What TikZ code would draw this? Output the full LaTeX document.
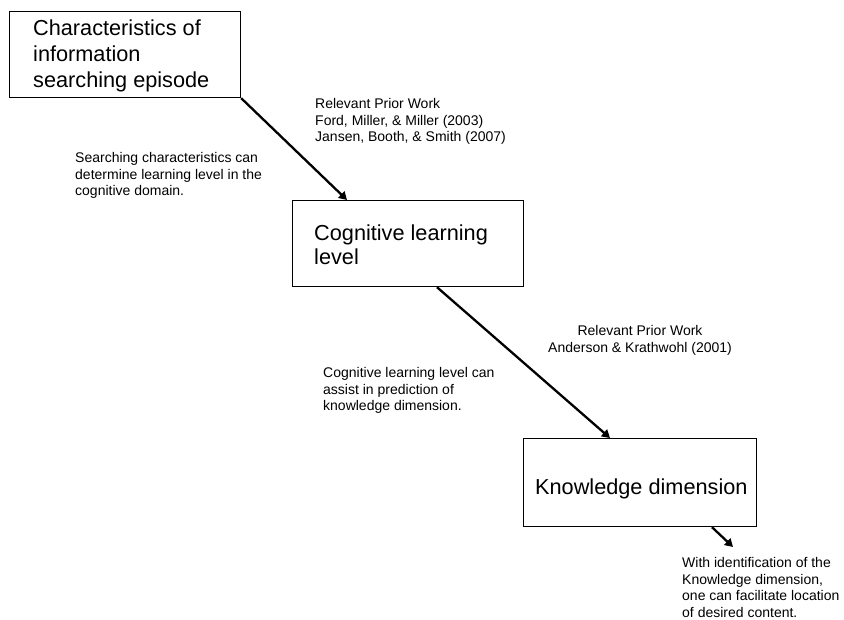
\documentclass[tikz,border=0pt]{standalone}
\usepackage{fontspec}
\setmainfont{Liberation Sans}
\usetikzlibrary{arrows.meta}
\begin{document}
\begin{tikzpicture}[x=1pt,y=-1pt,
  box/.style={draw, line width=1.2pt, inner sep=0pt, anchor=north west},
  bigtext/.style={font=\fontsize{21.7}{26}\selectfont, align=left, inner sep=0pt, anchor=north west},
  smalltext/.style={font=\fontsize{14}{16.8}\selectfont, align=left, inner sep=0pt, anchor=north west},
  conn/.style={line width=2.3pt, -{Triangle[length=8pt,width=9pt]}}]
\useasboundingbox (0,0) rectangle (844,620);
% boxes
\node[box, minimum width=231pt, minimum height=86pt] (b1) at (9,11) {};
\node[box, minimum width=231pt, minimum height=86pt] (b2) at (292,200) {};
\node[box, minimum width=233pt, minimum height=88pt] (b3) at (523,438) {};
% box texts
\node[bigtext] (t1) at (33,20) {Characteristics of\\information\\searching episode};
\node[bigtext, font=\fontsize{21.7}{23.5}\selectfont] (t2) at (314,225) {Cognitive learning\\level};
\node[bigtext] (t3) at (535,479) {Knowledge dimension};
% connectors
\coordinate (e3) at (733,547);
\draw[conn] (b1.south east) -- ([xshift=55pt]b2.north west);
\draw[conn] ([xshift=145pt]b2.south west) -- ([xshift=87pt]b3.north west);
\draw[conn] ([xshift=189pt]b3.south west) -- (e3);
% annotations
\node[smalltext] (r1) at (315,98) {Relevant Prior Work\\Ford, Miller, \& Miller (2003)\\Jansen, Booth, \& Smith (2007)};
\node[smalltext] (s1) at (75,152) {Searching characteristics can\\determine learning level in the\\cognitive domain.};
\node[smalltext, align=center, anchor=north] (r2) at (640,325) {Relevant Prior Work\\Anderson \& Krathwohl (2001)};
\node[smalltext] (s2) at (323,367) {Cognitive learning level can\\assist in prediction of\\knowledge dimension.};
\node[smalltext] (s3) at (682,557) {With identification of the\\Knowledge dimension,\\one can facilitate location\\of desired content.};
\end{tikzpicture}
\end{document}
